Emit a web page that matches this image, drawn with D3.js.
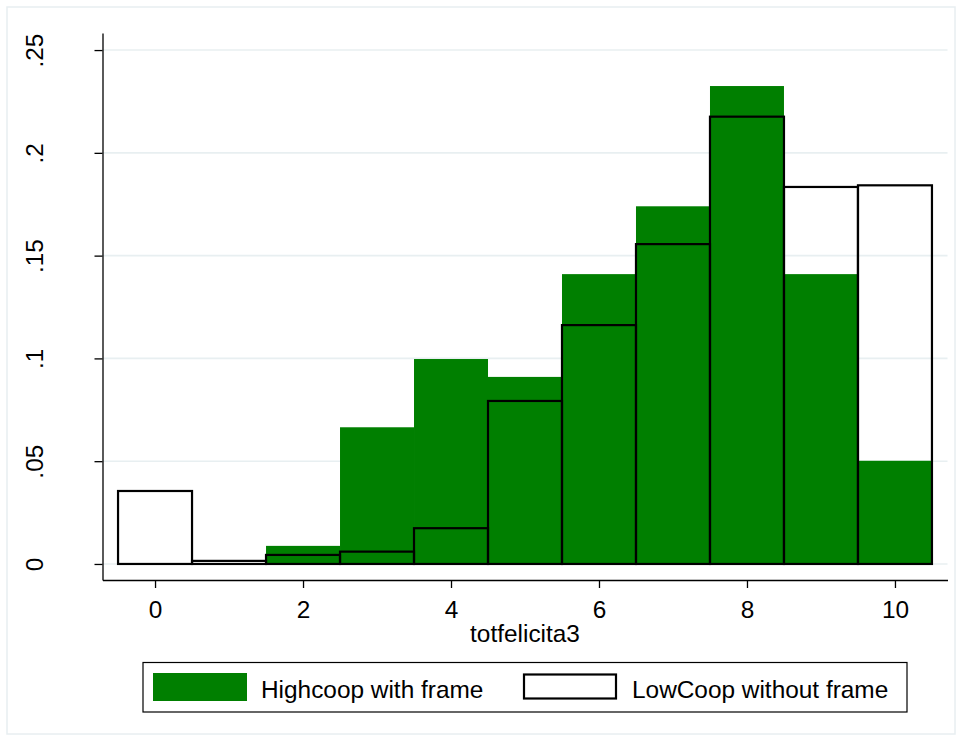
<!DOCTYPE html>
<html>
<head>
<meta charset="utf-8">
<script src="https://cdn.jsdelivr.net/npm/d3@7"></script>
<style>
  html, body { margin: 0; padding: 0; background: #ffffff; }
  svg { display: block; font-family: "Liberation Sans", Arial, sans-serif; }
</style>
</head>
<body>
<svg id="chart" width="962" height="741"></svg>
<script>
// Histogram bins (bin centres) of totfelicita3
const bins = [0, 1, 2, 3, 4, 5, 6, 7, 8, 9, 10];
// Density per bin, high-cooperation group with frame
const highcoop = [0, 0, 0.0088, 0.0665, 0.0997, 0.091, 0.141, 0.174, 0.2325, 0.141, 0.0502];
// Density per bin, low-cooperation group without frame
const lowcoop = [0.0355, 0.0015, 0.0044, 0.006, 0.0174, 0.0793, 0.1162, 0.1556, 0.2176, 0.1834, 0.1842];
// Axis ticks and labels
const xTicks = [0, 2, 4, 6, 8, 10];
const yTicks = [0, 0.05, 0.1, 0.15, 0.2, 0.25];
const yTickLabels = ["0", ".05", ".1", ".15", ".2", ".25"];
const seriesNames = ["Highcoop with frame", "LowCoop without frame"];
const xTitle = "totfelicita3";

const svg = d3.select("#chart");
const green = "#007f00";
const fontSize = 24.4;
const font = "'Liberation Sans', Arial, sans-serif";

// Outer graph region border
svg.append("rect")
  .attr("x", 7).attr("y", 7).attr("width", 948).attr("height", 727)
  .attr("fill", "#ffffff").attr("stroke", "#e8eef1").attr("stroke-width", 1.5);

const x = d3.scaleLinear().domain([-0.71, 10.71]).range([102.5, 947.5]);
const y = d3.scaleLinear().domain([-0.0078, 0.2583]).range([580, 33]);
const binW = 1;

// Horizontal grid lines
svg.append("g").selectAll("line").data(yTicks).join("line")
  .attr("x1", x.range()[0]).attr("x2", x.range()[1])
  .attr("y1", d => y(d)).attr("y2", d => y(d))
  .attr("stroke", "#e8eff1").attr("stroke-width", 1.6);

// Filled bars: Highcoop
svg.append("g").selectAll("rect").data(bins).join("rect")
  .attr("x", (d) => x(d - binW / 2))
  .attr("width", (d) => x(d + binW / 2) - x(d - binW / 2))
  .attr("y", (d, i) => y(highcoop[i]))
  .attr("height", (d, i) => y(0) - y(highcoop[i]))
  .attr("fill", green);

// Outlined bars: LowCoop
svg.append("g").selectAll("rect").data(bins).join("rect")
  .attr("x", (d) => x(d - binW / 2))
  .attr("width", (d) => x(d + binW / 2) - x(d - binW / 2))
  .attr("y", (d, i) => y(lowcoop[i]))
  .attr("height", (d, i) => y(0) - y(lowcoop[i]))
  .attr("fill", "none")
  .attr("stroke", "#000").attr("stroke-width", 2.2);

// Y axis
const yAxis = svg.append("g")
  .attr("transform", `translate(${x.range()[0]},0)`)
  .call(d3.axisLeft(y).tickValues(yTicks).tickSize(8).tickSizeOuter(0)
    .tickFormat((d, i) => yTickLabels[i]));
yAxis.select(".domain").attr("stroke", "#000").attr("stroke-width", 1.3);
yAxis.selectAll(".tick line").attr("stroke", "#000").attr("stroke-width", 1.3);
yAxis.selectAll(".tick text")
  .attr("transform", "rotate(-90)")
  .attr("x", 0).attr("y", -60).attr("dy", 0)
  .attr("text-anchor", "middle")
  .attr("font-size", fontSize).attr("fill", "#000")
  .style("font-family", font);

// X axis
const xAxis = svg.append("g")
  .attr("transform", `translate(0,${y.range()[0]})`)
  .call(d3.axisBottom(x).tickValues(xTicks).tickSize(8).tickSizeOuter(0)
    .tickFormat(d3.format("d")));
xAxis.select(".domain").attr("stroke", "#000").attr("stroke-width", 1.3);
xAxis.selectAll(".tick line").attr("stroke", "#000").attr("stroke-width", 1.3);
xAxis.selectAll(".tick text")
  .attr("y", 38).attr("dy", 0)
  .attr("font-size", fontSize).attr("fill", "#000")
  .style("font-family", font);

// X axis title
svg.append("text")
  .attr("x", (x.range()[0] + x.range()[1]) / 2).attr("y", 642)
  .attr("text-anchor", "middle")
  .attr("font-size", fontSize).attr("fill", "#000")
  .text(xTitle);

// Legend
const legend = svg.append("g");
legend.append("rect")
  .attr("x", 143).attr("y", 662.5).attr("width", 764).attr("height", 49.5)
  .attr("fill", "#fff").attr("stroke", "#000").attr("stroke-width", 1.2);
legend.append("rect")
  .attr("x", 153).attr("y", 673).attr("width", 94).attr("height", 28)
  .attr("fill", green);
legend.append("text")
  .attr("x", 261).attr("y", 698)
  .attr("font-size", fontSize).attr("fill", "#000")
  .text(seriesNames[0]);
legend.append("rect")
  .attr("x", 524).attr("y", 674.5).attr("width", 92).attr("height", 24)
  .attr("fill", "#fff").attr("stroke", "#000").attr("stroke-width", 2.2);
legend.append("text")
  .attr("x", 632).attr("y", 698)
  .attr("font-size", fontSize).attr("fill", "#000")
  .text(seriesNames[1]);
</script>
</body>
</html>
